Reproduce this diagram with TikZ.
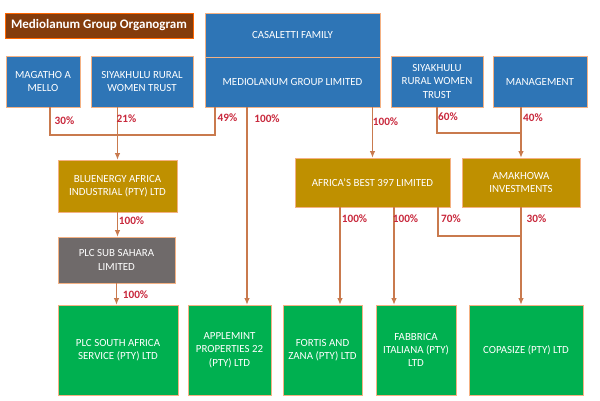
\documentclass[tikz,border=0pt]{standalone}
\usepackage{fontspec}
\setmainfont{Carlito}
\usetikzlibrary{arrows.meta, positioning}

\definecolor{orgblue}{HTML}{2E75B6}
\definecolor{orggold}{HTML}{BF9000}
\definecolor{orggray}{HTML}{6F6A6A}
\definecolor{orggreen}{HTML}{00B050}
\definecolor{orgbrown}{HTML}{843C0C}
\definecolor{boxline}{HTML}{F4B183}
\definecolor{linkc}{HTML}{C97A4E}
\definecolor{pctred}{HTML}{C8283C}

\begin{document}
\begin{tikzpicture}[x=0.02cm, y=-0.02cm,
    box/.style={rectangle, draw=boxline, line width=0.4pt, align=center, text=white, font=\fontsize{6.2}{7.6}\selectfont, inner sep=1pt},
    owner/.style={box, fill=orgblue},
    holding/.style={box, fill=orggold},
    company/.style={box, fill=orggreen, minimum height=1.8cm},
    link/.style={draw=linkc, line width=0.6pt},
    arrow/.style={link, -{Latex[length=1.3mm, width=1.1mm]}},
    pct/.style={font=\fontsize{6.4}{7}\selectfont\bfseries, text=pctred, inner sep=0pt},
]
\useasboundingbox (0,0) rectangle (600,400);

% Title
\node[box, fill=orgbrown, draw=orange!80!red, font=\fontsize{7.4}{8}\selectfont\bfseries, minimum width=3.76cm, minimum height=0.5cm] (title) at (99, 25.5) {Mediolanum Group Organogram};

% Shareholders
\node[owner, minimum width=3.5cm, minimum height=0.88cm] (casaletti) at (292.5, 35) {CASALETTI FAMILY};
\node[owner, minimum width=3.5cm, minimum height=1.0cm] (mediolanum) at (292.5, 82) {MEDIOLANUM GROUP LIMITED};
\node[owner, minimum width=1.48cm, minimum height=1.02cm] (magatho) at (43, 81.5) {MAGATHO A\\MELLO};
\node[owner, minimum width=2.04cm, minimum height=1.02cm] (siyaL) at (142, 81.5) {SIYAKHULU RURAL\\WOMEN TRUST};
\node[owner, minimum width=1.84cm, minimum height=1.02cm] (siyaR) at (437, 81.5) {SIYAKHULU\\RURAL WOMEN\\TRUST};
\node[owner, minimum width=1.88cm, minimum height=1.02cm] (mgmt) at (540, 81.5) {MANAGEMENT};

% Holding companies
\node[holding, minimum width=2.38cm, minimum height=1.04cm] (bluenergy) at (117.5, 186) {BLUENERGY AFRICA\\INDUSTRIAL (PTY) LTD};
\node[box, fill=orggray, minimum width=2.34cm, minimum height=0.92cm] (subsahara) at (116.5, 260) {PLC SUB SAHARA\\LIMITED};
\node[holding, minimum width=3.1cm, minimum height=0.98cm] (africas) at (372.5, 182.5) {AFRICA'S BEST 397 LIMITED};
\node[holding, minimum width=2.36cm, minimum height=0.98cm] (amakhowa) at (521, 182.5) {AMAKHOWA\\INVESTMENTS};

% Operating companies
\node[company, minimum width=2.4cm] (plcsa) at (118, 350) {PLC SOUTH AFRICA\\SERVICE (PTY) LTD};
\node[company, minimum width=1.66cm] (applemint) at (229.5, 350) {APPLEMINT\\PROPERTIES 22\\(PTY) LTD};
\node[company, minimum width=1.58cm] (fortis) at (322.5, 350) {FORTIS AND\\ZANA (PTY) LTD};
\node[company, minimum width=1.6cm] (fabbrica) at (416, 350) {FABBRICA\\ITALIANA (PTY)\\LTD};
\node[company, minimum width=2.28cm] (copasize) at (526, 350) {COPASIZE (PTY) LTD};

% Junctions
\coordinate (jMag) at (50, 135);
\coordinate (jMed) at (215, 135);
\coordinate (jAma) at (521, 133);
\coordinate (j70) at (438, 236);
\coordinate (appIn) at ([xshift=0.35cm]applemint.north);
\coordinate (forIn) at ([xshift=0.35cm]fortis.north);
\coordinate (fabIn) at ([xshift=-0.44cm]fabbrica.north);

% Ownership lines
\draw[link] (magatho.south -| jMag) -- (jMag) -- (jMed) -- (mediolanum.south -| jMed);
\draw[arrow] (siyaL.south -| bluenergy.north) -- (bluenergy.north);
\draw[arrow] (mediolanum.south -| appIn) -- (appIn);
\draw[arrow] (mediolanum.south -| africas.north) -- (africas.north);
\draw[link] (siyaR.south) |- (jAma);
\draw[arrow] (mgmt.south -| amakhowa.north) -- (amakhowa.north);
\draw[arrow] (bluenergy.south) -- (subsahara.north -| bluenergy.south);
\draw[arrow] (subsahara.south) -- (plcsa.north -| subsahara.south);
\draw[arrow] (africas.south -| forIn) -- (forIn);
\draw[arrow] (africas.south -| fabIn) -- (fabIn);
\draw[link] (africas.south -| j70) -- (j70) -- (j70 -| amakhowa.south);
\draw[arrow] (amakhowa.south) -- (copasize.north -| amakhowa.south);

% Percentages
\node[pct] (p30) at (64.5, 120.5) {30\%};
\node[pct] (p21) at (126.5, 119) {21\%};
\node[pct] (p49) at (227.5, 118) {49\%};
\node[pct] (pApp) at (267, 119) {100\%};
\node[pct] (pAfr) at (385.5, 122) {100\%};
\node[pct] (p60) at (448, 117) {60\%};
\node[pct] (p40) at (533, 118) {40\%};
\node[pct] (pBlu) at (131.5, 220.5) {100\%};
\node[pct] (pSub) at (135.5, 294.5) {100\%};
\node[pct] (pFor) at (354.5, 219) {100\%};
\node[pct] (pFab) at (405.5, 219) {100\%};
\node[pct] (p70) at (451, 219) {70\%};
\node[pct] (pAma) at (536.5, 219) {30\%};

\end{tikzpicture}
\end{document}
